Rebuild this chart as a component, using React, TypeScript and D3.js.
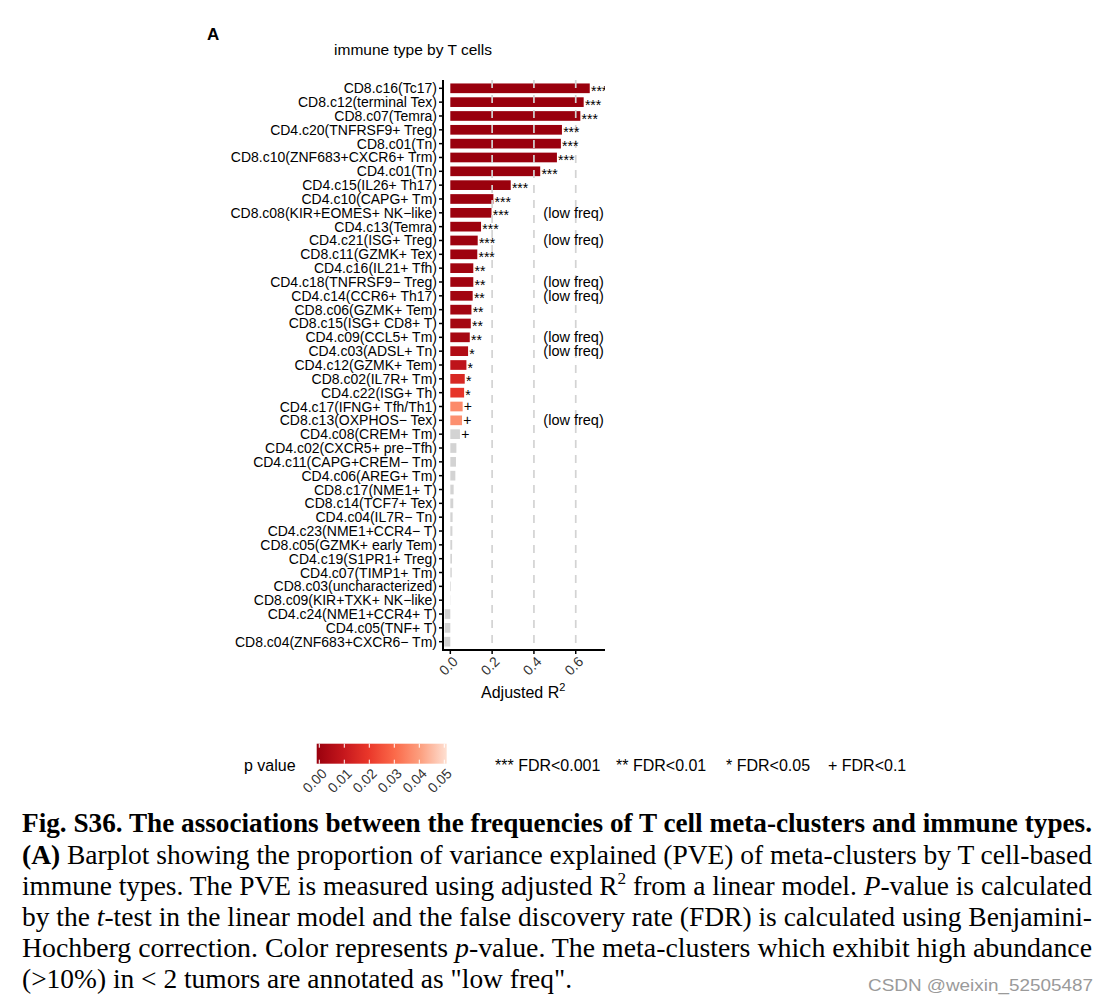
import React from "react";
import * as d3 from "d3";

const categories = [
  "CD8.c16(Tc17)", "CD8.c12(terminal Tex)", "CD8.c07(Temra)", "CD4.c20(TNFRSF9+ Treg)",
  "CD8.c01(Tn)", "CD8.c10(ZNF683+CXCR6+ Trm)", "CD4.c01(Tn)", "CD4.c15(IL26+ Th17)",
  "CD4.c10(CAPG+ Tm)", "CD8.c08(KIR+EOMES+ NK\u2212like)", "CD4.c13(Temra)", "CD4.c21(ISG+ Treg)",
  "CD8.c11(GZMK+ Tex)", "CD4.c16(IL21+ Tfh)", "CD4.c18(TNFRSF9\u2212 Treg)", "CD4.c14(CCR6+ Th17)",
  "CD8.c06(GZMK+ Tem)", "CD8.c15(ISG+ CD8+ T)", "CD4.c09(CCL5+ Tm)", "CD4.c03(ADSL+ Tn)",
  "CD4.c12(GZMK+ Tem)", "CD8.c02(IL7R+ Tm)", "CD4.c22(ISG+ Th)", "CD4.c17(IFNG+ Tfh/Th1)",
  "CD8.c13(OXPHOS\u2212 Tex)", "CD4.c08(CREM+ Tm)", "CD4.c02(CXCR5+ pre\u2212Tfh)", "CD4.c11(CAPG+CREM\u2212 Tm)",
  "CD4.c06(AREG+ Tm)", "CD8.c17(NME1+ T)", "CD8.c14(TCF7+ Tex)", "CD4.c04(IL7R\u2212 Tn)",
  "CD4.c23(NME1+CCR4\u2212 T)", "CD8.c05(GZMK+ early Tem)", "CD4.c19(S1PR1+ Treg)", "CD4.c07(TIMP1+ Tm)",
  "CD8.c03(uncharacterized)", "CD8.c09(KIR+TXK+ NK\u2212like)", "CD4.c24(NME1+CCR4+ T)", "CD4.c05(TNF+ T)",
  "CD8.c04(ZNF683+CXCR6\u2212 Tm)",
];

const adjR2 = [
  0.667, 0.638, 0.622, 0.534, 0.529, 0.510, 0.430, 0.289, 0.206, 0.197, 0.147, 0.131,
  0.129, 0.110, 0.110, 0.107, 0.101, 0.098, 0.093, 0.085, 0.077, 0.069, 0.066, 0.059,
  0.056, 0.046, 0.029, 0.027, 0.024, 0.016, 0.014, 0.011, 0.010, 0.009, 0.008, 0.007,
  0.003, 0.001, -0.027, -0.027, -0.029,
];

// null = p > 0.05 (drawn grey)
const pValues: (number | null)[] = [
  0.0, 0.0, 0.0, 0.0, 0.0, 0.0001, 0.0001, 0.0003, 0.0006, 0.0007, 0.0009, 0.001,
  0.0011, 0.0018, 0.0019, 0.0021, 0.0024, 0.0027, 0.0031, 0.0055, 0.0085, 0.015, 0.019, 0.036,
  0.037, null, null, null, null, null, null, null, null, null, null, null,
  null, null, null, null, null,
];

const fdrLabels = [
  "***", "***", "***", "***", "***", "***", "***", "***", "***", "***", "***", "***",
  "***", "**", "**", "**", "**", "**", "**", "*", "*", "*", "*", "+",
  "+", "+", "", "", "", "", "", "", "", "", "", "",
  "", "", "", "", "",
];

const lowFreq = [
  "CD8.c08(KIR+EOMES+ NK\u2212like)", "CD4.c21(ISG+ Treg)", "CD4.c18(TNFRSF9\u2212 Treg)",
  "CD4.c14(CCR6+ Th17)", "CD4.c09(CCL5+ Tm)", "CD4.c03(ADSL+ Tn)", "CD8.c13(OXPHOS\u2212 Tex)",
];

const xTicks = [0, 0.2, 0.4, 0.6];
const gridValues = [0.2, 0.4, 0.6];
const legendTicks = [0, 0.01, 0.02, 0.03, 0.04, 0.05];
const colorStops = ["#99000D", "#C4161C", "#EA372A", "#FB6A4A", "#FCA080", "#FEE0D2"];
const fdrLegend = ["*** FDR<0.001", "** FDR<0.01", "* FDR<0.05", "+ FDR<0.1"];

type Seg = { t: string; b?: boolean; i?: boolean; sup?: boolean };
const captionLines: Seg[][] = [
  [{ t: "Fig. S36. The associations between the frequencies of T cell meta-clusters and immune types.", b: true }],
  [{ t: "(A)", b: true }, { t: " Barplot showing the proportion of variance explained (PVE) of meta-clusters by T cell-based" }],
  [{ t: "immune types. The PVE is measured using adjusted R" }, { t: "2", sup: true }, { t: " from a linear model. " }, { t: "P", i: true }, { t: "-value is calculated" }],
  [{ t: "by the " }, { t: "t", i: true }, { t: "-test in the linear model and the false discovery rate (FDR) is calculated using Benjamini-" }],
  [{ t: "Hochberg correction. Color represents " }, { t: "p", i: true }, { t: "-value. The meta-clusters which exhibit high abundance" }],
  [{ t: "(>10%) in < 2 tumors are annotated as \"low freq\"." }],
];

const SANS = "Liberation Sans, Arial, Helvetica, sans-serif";
const SERIF = "Liberation Serif, Times New Roman, Times, serif";

export default function App() {
  const left = 443, right = 605, top = 80, bottom = 650;
  const x = d3.scaleLinear().domain([-0.035, 0.74]).range([left, right]);
  const y = d3.scaleBand<string>().domain(categories).range([top, bottom]).paddingInner(0.3).paddingOuter(0.25);
  const color = d3.scaleLinear<string>()
    .domain(colorStops.map((_, i) => (i * 0.05) / (colorStops.length - 1)))
    .range(colorStops)
    .interpolate(d3.interpolateRgb);
  const grey = "#D3D3D3";

  const legX = d3.scaleLinear().domain([0, 0.05]).range([319.3, 444.3]);
  const gradId = "pgrad";
  const legendStops = d3.range(0, 1.0001, 0.05);

  const fdrX = [495, 616, 726, 828];
  const capBase = [832, 864, 895, 926, 957, 988];
  const capWidth = [1070, 1070, 1070, 1070, 1070, 550];

  return (
    <svg width={1114} height={1004} style={{ position: "absolute", left: 0, top: 0, background: "#fff" }}>
      <defs>
        <clipPath id="panel">
          <rect x={left} y={top - 5} width={right - left} height={bottom - top + 5} />
        </clipPath>
        <linearGradient id={gradId} x1="0" x2="1" y1="0" y2="0">
          {legendStops.map((t) => (
            <stop key={t} offset={`${t * 100}%`} stopColor={color(t * 0.05)} />
          ))}
        </linearGradient>
      </defs>
      <rect x={0} y={0} width={1114} height={1004} fill="#fff" />

      <text x={207} y={40} fontFamily={SANS} fontWeight="bold" fontSize={17}>A</text>
      <text x={413} y={55} textAnchor="middle" fontFamily={SANS} fontSize={15.5}>immune type by T cells</text>

      <g clipPath="url(#panel)">
        {categories.map((c, i) => {
          const v = adjR2[i];
          const p = pValues[i];
          return (
            <rect key={c} x={x(Math.min(0, v))} y={y(c)} width={Math.abs(x(v) - x(0))}
              height={y.bandwidth()} fill={p === null ? grey : color(p)} />
          );
        })}
        {gridValues.map((g) => (
          <line key={g} x1={x(g)} x2={x(g)} y1={top} y2={bottom} stroke="#D3D3D3" strokeWidth={1.7} strokeDasharray="8,7" />
        ))}
        {categories.map((c, i) => {
          const lab = fdrLabels[i];
          if (!lab) return null;
          const cy = (y(c) as number) + y.bandwidth() / 2;
          const dy = lab.includes("*") ? 7.6 : 4.8;
          return (
            <text key={c} x={x(Math.max(0, adjR2[i])) + 1.2} y={cy + dy} fontFamily={SANS} fontSize={14}>{lab}</text>
          );
        })}
        {lowFreq.map((c) => (
          <text key={c} x={x(0.445)} y={(y(c) as number) + y.bandwidth() / 2 + 5} fontFamily={SANS} fontSize={14.5}>(low freq)</text>
        ))}
      </g>

      {/* y axis */}
      <line x1={left} x2={left} y1={top} y2={bottom} stroke="#000" strokeWidth={2} />
      {categories.map((c) => {
        const cy = (y(c) as number) + y.bandwidth() / 2;
        return (
          <g key={c}>
            <line x1={left - 4} x2={left} y1={cy} y2={cy} stroke="#000" strokeWidth={1.5} />
            <text x={left - 6} y={cy + 5} textAnchor="end" fontFamily={SANS} fontSize={14}>{c}</text>
          </g>
        );
      })}

      {/* x axis */}
      <line x1={left - 1} x2={right} y1={bottom} y2={bottom} stroke="#000" strokeWidth={2} />
      {xTicks.map((t) => (
        <g key={t}>
          <line x1={x(t)} x2={x(t)} y1={bottom} y2={bottom + 4} stroke="#000" strokeWidth={1.5} />
          <text transform={`translate(${x(t) + 5},${bottom + 9}) rotate(-45)`} textAnchor="end" dy="0.35em" fontFamily={SANS} fontSize={14} fill="#333">
            {d3.format(".1f")(t)}
          </text>
        </g>
      ))}
      <text x={481} y={698} fontFamily={SANS} fontSize={16}>
        Adjusted R<tspan dy={-7} fontSize={11}>2</tspan>
      </text>

      {/* legend */}
      <text x={244} y={771} fontFamily={SANS} fontSize={16}>p value</text>
      <rect x={316.7} y={743.7} width={130} height={20} fill={`url(#${gradId})`} />
      {legendTicks.map((t) => (
        <g key={t}>
          <line x1={legX(t)} x2={legX(t)} y1={743.7} y2={747.7} stroke="#fff" strokeWidth={1} />
          <line x1={legX(t)} x2={legX(t)} y1={759.7} y2={763.7} stroke="#fff" strokeWidth={1} />
          <text transform={`translate(${legX(t) + 5},${771}) rotate(-45)`} textAnchor="end" dy="0.35em" fontFamily={SANS} fontSize={14} fill="#333">
            {d3.format(".2f")(t)}
          </text>
        </g>
      ))}
      {fdrLegend.map((s, i) => (
        <text key={s} x={fdrX[i]} y={771} fontFamily={SANS} fontSize={16}>{s}</text>
      ))}

      {/* caption */}
      {captionLines.map((segs, li) => (
        <text key={li} x={22} y={capBase[li]} fontFamily={SERIF} fontSize={27}
          textLength={capWidth[li]} lengthAdjust="spacingAndGlyphs">
          {segs.map((s, si) => (
            <tspan key={si} fontWeight={s.b ? "bold" : undefined} fontStyle={s.i ? "italic" : undefined}
              dy={s.sup ? -11 : si > 0 && segs[si - 1].sup ? 11 : undefined} fontSize={s.sup ? 17 : undefined}>
              {s.t}
            </tspan>
          ))}
        </text>
      ))}
      <text x={868} y={991} fontFamily={SANS} fontSize={17} fill="#9a9a9a" textLength={225} lengthAdjust="spacingAndGlyphs">CSDN @weixin_52505487</text>
    </svg>
  );
}
